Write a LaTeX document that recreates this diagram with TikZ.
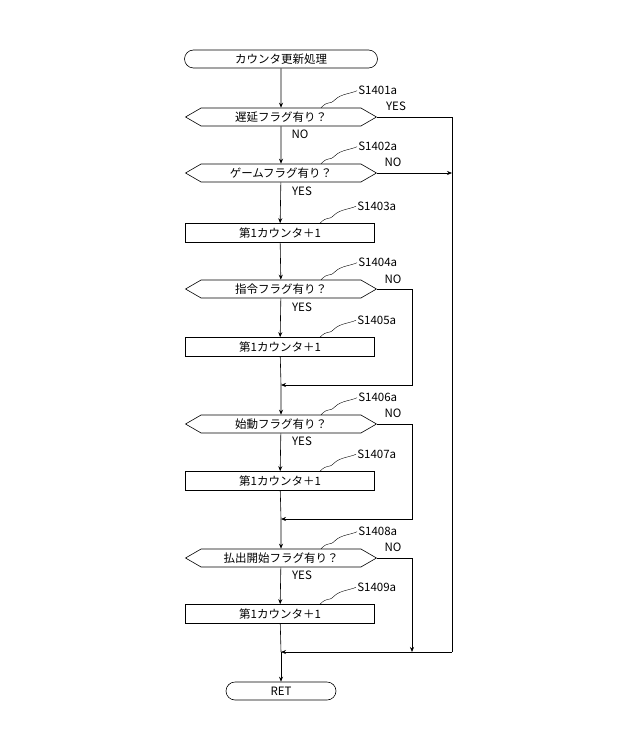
\documentclass[tikz,border=0pt]{standalone}
\usepackage{fontspec}
\newfontfamily\jp{Noto Sans CJK JP}
\usetikzlibrary{shapes.symbols,shapes.misc,arrows.meta}
\tikzset{
  term/.style={draw,rounded rectangle,minimum width=193pt,minimum height=18pt,inner sep=0pt},
  dec/.style={draw,signal,signal to=west and east,signal pointer angle=60,minimum width=191pt,minimum height=18pt,inner sep=0pt},
  proc/.style={draw,rectangle,minimum width=189pt,minimum height=19pt,inner sep=0pt},
  flow/.style={-{Stealth[length=5pt,width=4pt]}},
  lbl/.style={font=\jp\fontsize{11.5}{12}\selectfont,inner sep=1pt}
}
\begin{document}
\begin{tikzpicture}[x=1pt,y=-1pt,font=\jp\fontsize{11.5}{13}\selectfont,line width=0.6pt]
\useasboundingbox (0,0) rectangle (640,730);
\node[term] (start) at (281,59) {カウンタ更新処理};
\node[dec] (d1) at (281,117) {遅延フラグ有り？};
\node[dec] (d2) at (281,173) {ゲームフラグ有り？};
\node[proc] (p3) at (280,233) {第1カウンタ＋1};
\node[dec] (d4) at (281,289) {指令フラグ有り？};
\node[proc] (p5) at (280,347) {第1カウンタ＋1};
\node[dec] (d6) at (281,424) {始動フラグ有り？};
\node[proc] (p7) at (280,481) {第1カウンタ＋1};
\node[dec] (d8) at (281,558) {払出開始フラグ有り？};
\node[proc] (p9) at (280,614) {第1カウンタ＋1};
\node[term,minimum width=110pt] (ret) at (281,691) {RET};
% merge points
\coordinate (m5) at (281,385);
\coordinate (m7) at (281,519);
\coordinate (m9) at (281,652);
% step labels
\foreach \n/\t in {d1/S1401a,d2/S1402a,p3/S1403a,d4/S1404a,p5/S1405a,d6/S1406a,p7/S1407a,d8/S1408a,p9/S1409a}{
  \node[lbl,anchor=west] (L\n) at ([shift={(76,-17)}]\n.north) {\t};
  \draw[thin] ([xshift=40]\n.north) .. controls +(8,-8) and +(-6,6) .. +(14,-8) .. controls +(6,-6) and +(-6,3) .. (L\n.west);
}
% main flow
\draw[flow] (start) -- (d1);
\draw[flow] (d1) -- (d2);
\draw[flow] (d2) -- (p3);
\draw[flow] (p3) -- (d4);
\draw[flow] (d4) -- (p5);
\draw (p5) -- (m5);
\draw[flow] (m5) -- (d6);
\draw[flow] (d6) -- (p7);
\draw (p7) -- (m7);
\draw[flow] (m7) -- (d8);
\draw[flow] (d8) -- (p9);
\draw (p9) -- (m9);
\draw[flow] (m9) -- (ret);
% branches
\draw (d1.east) -- (452,117) -- (452,652);
\draw[flow] (d2.east) -- (452,173);
\draw[flow] (d4.east) -- (412,289) -- (412,385) -- (m5);
\draw[flow] (d6.east) -- (412,424) -- (412,519) -- (m7);
\draw[flow] (d8.east) -- (412,558) -- (412,652);
\draw[flow] (452,652) -- (m9);
% yes/no
\node[lbl] at (396,106) {YES};
\node[lbl] at (300,134) {NO};
\node[lbl] at (393,162) {NO};
\node[lbl] at (302,191) {YES};
\node[lbl] at (393,279) {NO};
\node[lbl] at (302,307) {YES};
\node[lbl] at (393,413) {NO};
\node[lbl] at (302,441) {YES};
\node[lbl] at (393,547) {NO};
\node[lbl] at (302,575) {YES};
\end{tikzpicture}
\end{document}
